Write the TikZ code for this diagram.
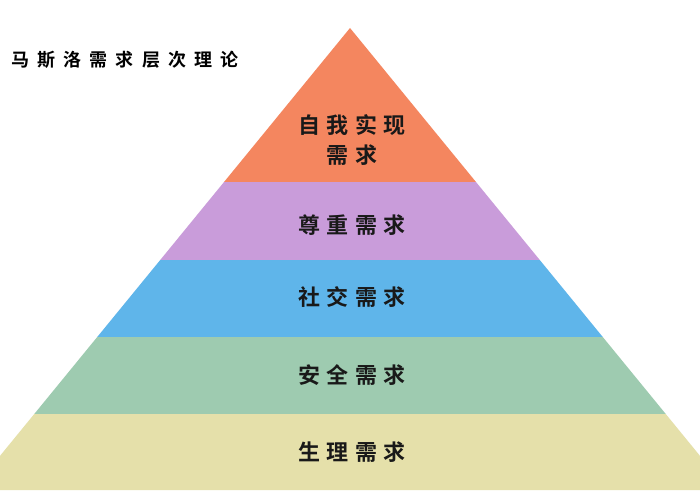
\documentclass[tikz,border=0pt]{standalone}
\usepackage{fontspec}
\newfontfamily\cjk[LetterSpace=30]{Noto Sans CJK SC Bold}
\newfontfamily\cjkt[LetterSpace=45]{Noto Sans CJK SC Bold}
\definecolor{cA}{HTML}{F4865F}
\definecolor{cB}{HTML}{C99CDA}
\definecolor{cC}{HTML}{5FB5EA}
\definecolor{cD}{HTML}{9ECBB0}
\definecolor{cE}{HTML}{E5E0AA}
\begin{document}
\begin{tikzpicture}[x=1pt,y=-1pt,lab/.style={font=\cjk\fontsize{22}{30}\selectfont,text=black!90,align=center}]
\useasboundingbox (0,0) rectangle (700,500);
\fill[white] (0,0) rectangle (700,500);
\begin{scope}
\clip (0,0) rectangle (700,490);
\coordinate (apex) at (350,28);
\fill[cA] (apex) -- ({350-0.818*154},182) -- ({350+0.818*154},182) -- cycle;
\fill[cB] ({350-0.818*154},182) -- ({350+0.818*154},182) -- ({350+0.818*232},260) -- ({350-0.818*232},260) -- cycle;
\fill[cC] ({350-0.818*232},260) -- ({350+0.818*232},260) -- ({350+0.818*309},337) -- ({350-0.818*309},337) -- cycle;
\fill[cD] ({350-0.818*309},337) -- ({350+0.818*309},337) -- ({350+0.818*386},414) -- ({350-0.818*386},414) -- cycle;
\fill[cE] ({350-0.818*386},414) -- ({350+0.818*386},414) -- ({350+0.818*462},490) -- ({350-0.818*462},490) -- cycle;
\end{scope}
\node[lab] (t1) at (352,140) {自我实现\\需求};
\node[lab] (t2) at (352,225) {尊重需求};
\node[lab] (t3) at (352,297) {社交需求};
\node[lab] (t4) at (352,375) {安全需求};
\node[lab] (t5) at (352,452) {生理需求};
\node[font=\cjkt\fontsize{18}{22}\selectfont,anchor=west] (title) at (8,60) {马斯洛需求层次理论};
\end{tikzpicture}
\end{document}
